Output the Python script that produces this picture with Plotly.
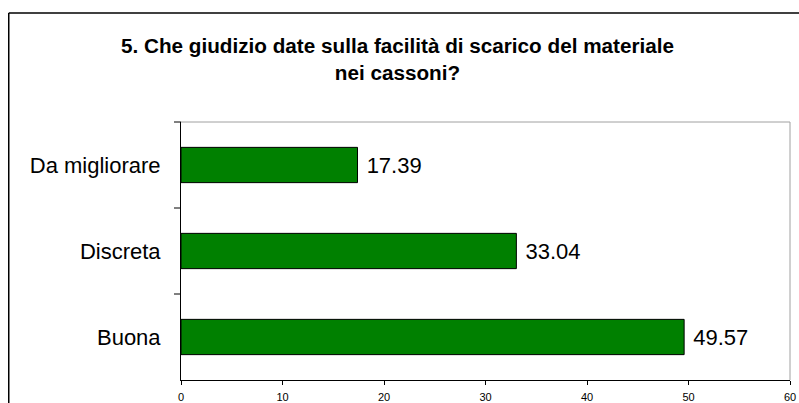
import plotly.graph_objects as go

categories = ["Buona", "Discreta", "Da migliorare"]
values = [49.57, 33.04, 17.39]
x_ticks = [0, 10, 20, 30, 40, 50, 60]
title_text = "<b>5. Che giudizio date sulla facilità di scarico del materiale<br>nei cassoni?</b>"

FONT = "Liberation Sans, Arial"

fig = go.Figure()
fig.add_trace(go.Bar(
    y=categories, x=values, orientation="h",
    marker=dict(color="#008000", line=dict(color="black", width=1)),
    text=values, texttemplate=" %{x:.2f}", textposition="outside",
    textfont=dict(family=FONT, size=22, color="black"),
    cliponaxis=False, width=0.41,
))

W, H = 799, 403
L, R, T = 181, 799 - 790, 122
B = H - 380
pw = W - L - R
ph = H - T - B

def px_x(x):  # page px -> paper
    return (x - L) / pw

def px_y(y):
    return (H - B - y) / ph

fig.update_layout(
    width=W, height=H,
    margin=dict(l=L, r=R, t=T, b=B, autoexpand=False),
    paper_bgcolor="white", plot_bgcolor="white",
    showlegend=False,
    annotations=[dict(text=title_text, xref="paper", yref="paper",
                      x=px_x(397), y=px_y(32), xanchor="center", yanchor="top",
                      showarrow=False, align="center",
                      font=dict(family=FONT, size=20.7, color="black"))],
    xaxis=dict(range=[0, 60], tickvals=x_ticks, ticks="outside", ticklen=4, tickcolor="black",
               showline=True, linecolor="black", linewidth=1, showgrid=False, zeroline=False,
               ticklabelstandoff=3,
               tickfont=dict(family=FONT, size=11, color="black")),
    yaxis=dict(showline=True, linecolor="black", linewidth=1, showgrid=False, zeroline=False,
               ticks="", tickfont=dict(family=FONT, size=22, color="black"),
               ticklabelstandoff=15),
    shapes=[
        # plot area top & right gray border
        dict(type="line", xref="paper", yref="paper", x0=0, x1=1, y0=1, y1=1,
             line=dict(color="#a0a0a0", width=1)),
        dict(type="line", xref="paper", yref="paper", x0=1, x1=1, y0=0, y1=1,
             line=dict(color="#a0a0a0", width=1)),
        # outer chart border
        dict(type="line", xref="paper", yref="paper",
             x0=px_x(8.75), x1=px_x(820), y0=px_y(13), y1=px_y(13),
             line=dict(color="black", width=1.5)),
        dict(type="line", xref="paper", yref="paper",
             x0=px_x(8.75), x1=px_x(8.75), y0=px_y(13), y1=px_y(420),
             line=dict(color="black", width=1.5)),
        # y category separator ticks
        dict(type="line", xref="paper", yref="paper", x0=-7 / pw, x1=0, y0=1 / 3, y1=1 / 3,
             line=dict(color="black", width=1)),
        dict(type="line", xref="paper", yref="paper", x0=-7 / pw, x1=0, y0=2 / 3, y1=2 / 3,
             line=dict(color="black", width=1)),
        dict(type="line", xref="paper", yref="paper", x0=-7 / pw, x1=0, y0=1, y1=1,
             line=dict(color="black", width=1)),
    ],
)

# remove the default 8px body margin so the figure fills the window exactly
fig.write_html("out.html", config={"displayModeBar": False},
               post_script="document.body.style.margin='0';")
